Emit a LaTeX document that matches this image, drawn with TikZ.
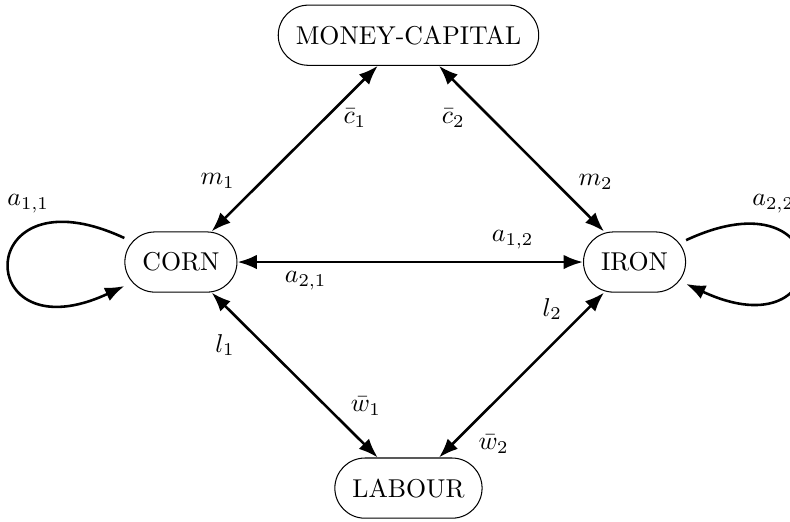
\documentclass[tikz,border=0pt]{standalone}
\usepackage{tikz}
\usetikzlibrary{arrows.meta,positioning}
\tikzset{
  sector/.style={draw, line width=0.4pt, rectangle, rounded corners=0.41cm, minimum height=0.82cm, inner xsep=6.8pt},
  flow/.style={line width=1pt, {Latex}-{Latex}},
  selfflow/.style={line width=1pt, -{Latex}}
}

\begin{document}
\begin{tikzpicture}
    \useasboundingbox (-5.565,-3.529) rectangle (5.198,3.570);

    % 绘制部门
    \node[sector] (MC) at (0,3.09) {MONEY-CAPITAL};
    \node[sector] (CORN) at (-3.10,0) {CORN};
    \node[sector] (IRON) at (3.08,0) {IRON};
    \node[sector] (LAB) at (0,-3.08) {LABOUR};

    % 绘制双向流
    \draw[flow] (CORN) -- (MC);
    \draw[flow] (MC) -- (IRON);
    \draw[flow] (CORN) -- (IRON);
    \draw[flow] (CORN) -- (LAB);
    \draw[flow] (LAB) -- (IRON);

    % 绘制自身投入
    \draw[selfflow] (CORN.157) .. controls +(155:2.3) and +(205:2.3) .. (CORN.203);
    \draw[selfflow] (IRON.23) .. controls +(25:2.3) and +(-25:2.3) .. (IRON.-23);

    % 标注系数
    \node (a11) at (-5.18,0.79) {$a_{1,1}$};
    \node (a22) at (4.97,0.79) {$a_{2,2}$};
    \node (a12) at (1.42,0.31) {$a_{1,2}$};
    \node (a21) at (-1.40,-0.26) {$a_{2,1}$};
    \node (m1) at (-2.60,1.10) {$m_1$};
    \node (m2) at (2.55,1.09) {$m_2$};
    \node (c1) at (-0.73,1.96) {$\bar{c}_1$};
    \node (c2) at (0.61,1.96) {$\bar{c}_2$};
    \node (l1) at (-2.50,-1.13) {$l_1$};
    \node (l2) at (1.96,-0.64) {$l_2$};
    \node (w1) at (-0.58,-1.96) {$\bar{w}_1$};
    \node (w2) at (1.16,-2.48) {$\bar{w}_2$};
\end{tikzpicture}
\end{document}
